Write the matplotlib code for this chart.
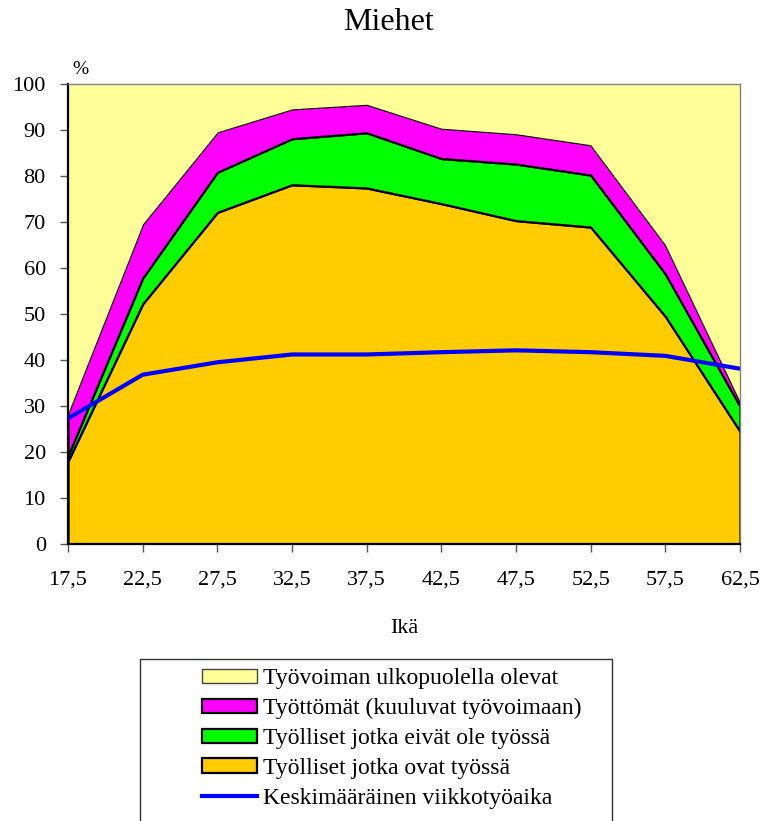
import matplotlib
matplotlib.use("Agg")
import matplotlib.pyplot as plt
from matplotlib.patches import Patch, Rectangle
from matplotlib.lines import Line2D

plt.rcParams["font.family"] = ["Liberation Serif", "DejaVu Serif"]

# Age group midpoints
ages = [17.5, 22.5, 27.5, 32.5, 37.5, 42.5, 47.5, 52.5, 57.5, 62.5]
age_labels = ["17,5", "22,5", "27,5", "32,5", "37,5", "42,5", "47,5", "52,5", "57,5", "62,5"]

# Shares of the male population (%), stacked bottom to top
employed_at_work = [18.0, 52.2, 72.1, 78.1, 77.4, 74.0, 70.3, 68.9, 49.5, 24.5]
employed_not_at_work = [1.2, 5.6, 8.7, 10.0, 12.0, 9.8, 12.3, 11.3, 9.2, 5.4]
unemployed = [9.3, 11.8, 8.8, 6.5, 6.2, 6.6, 6.6, 6.6, 6.4, 1.1]
outside_labour_force = [71.5, 30.4, 10.4, 5.4, 4.4, 9.6, 10.8, 13.2, 34.9, 69.0]

# Average weekly working hours
weekly_hours = [27.3, 36.8, 39.5, 41.2, 41.2, 41.7, 42.1, 41.7, 40.9, 38.1]

series_labels = [
    "Työlliset jotka ovat työssä",
    "Työlliset jotka eivät ole työssä",
    "Työttömät (kuuluvat työvoimaan)",
    "Työvoiman ulkopuolella olevat",
]
line_label = "Keskimääräinen viikkotyöaika"
colors = ["#FFCC00", "#00FF00", "#FF00FF", "#FFFF99"]

W, H = 765, 821
fig = plt.figure(figsize=(W / 100, H / 100), dpi=100)
ax = fig.add_axes([68 / W, 1 - 544 / H, (740 - 68) / W, (544 - 84) / H])

polys = ax.stackplot(
    ages,
    employed_at_work, employed_not_at_work, unemployed, outside_labour_force,
    colors=colors, edgecolor="black", linewidth=1.6,
)
polys[-1].set_linewidth(0)
ax.plot(ages, weekly_hours, color="#0000FF", linewidth=3, solid_capstyle="butt", zorder=5)

ax.set_xlim(17.5, 62.5)
ax.set_ylim(0, 100)
ax.set_xticks(ages)
ax.set_xticklabels(age_labels)
ax.set_yticks(range(0, 101, 10))
ax.tick_params(axis="both", direction="out", length=6, color="#555555",
               labelsize=16, width=1)
ax.tick_params(axis="y", pad=10)
ax.tick_params(axis="x", pad=13)
for side in ("left", "bottom"):
    ax.spines[side].set_color("black")
    ax.spines[side].set_linewidth(1.6)
for side in ("top", "right"):
    ax.spines[side].set_color("#808080")
    ax.spines[side].set_linewidth(1.0)

ax.set_xlabel("Ikä", fontsize=16, labelpad=21)
fig.text(388 / W, 1 - 22 / H, "Miehet", fontsize=23, ha="center", va="center")
fig.text(80 / W, 1 - 70 / H, "%", fontsize=14, ha="center", va="center")

# Legend frame and entries
fig.patches.append(Rectangle((140 / W, -0.01), (612 - 140) / W, 0.01 + (821 - 659) / H,
                             transform=fig.transFigure, facecolor="white",
                             edgecolor="#333333", linewidth=1.0, zorder=0))
handles = [
    Patch(facecolor=colors[3], edgecolor="#444444", linewidth=1.0),
    Patch(facecolor=colors[2], edgecolor="black", linewidth=1.6),
    Patch(facecolor=colors[1], edgecolor="black", linewidth=1.6),
    Patch(facecolor=colors[0], edgecolor="black", linewidth=1.6),
    Line2D([], [], color="#0000FF", linewidth=3),
]
labels = [series_labels[3], series_labels[2], series_labels[1], series_labels[0], line_label]
fig.legend(handles, labels, loc="upper left", bbox_to_anchor=(193 / W, 1 - 659 / H),
           frameon=False, fontsize=17, handlelength=2.3, handleheight=0.55,
           handletextpad=0.28, labelspacing=0.37, borderaxespad=0)

fig.savefig("out.png", dpi=100)
